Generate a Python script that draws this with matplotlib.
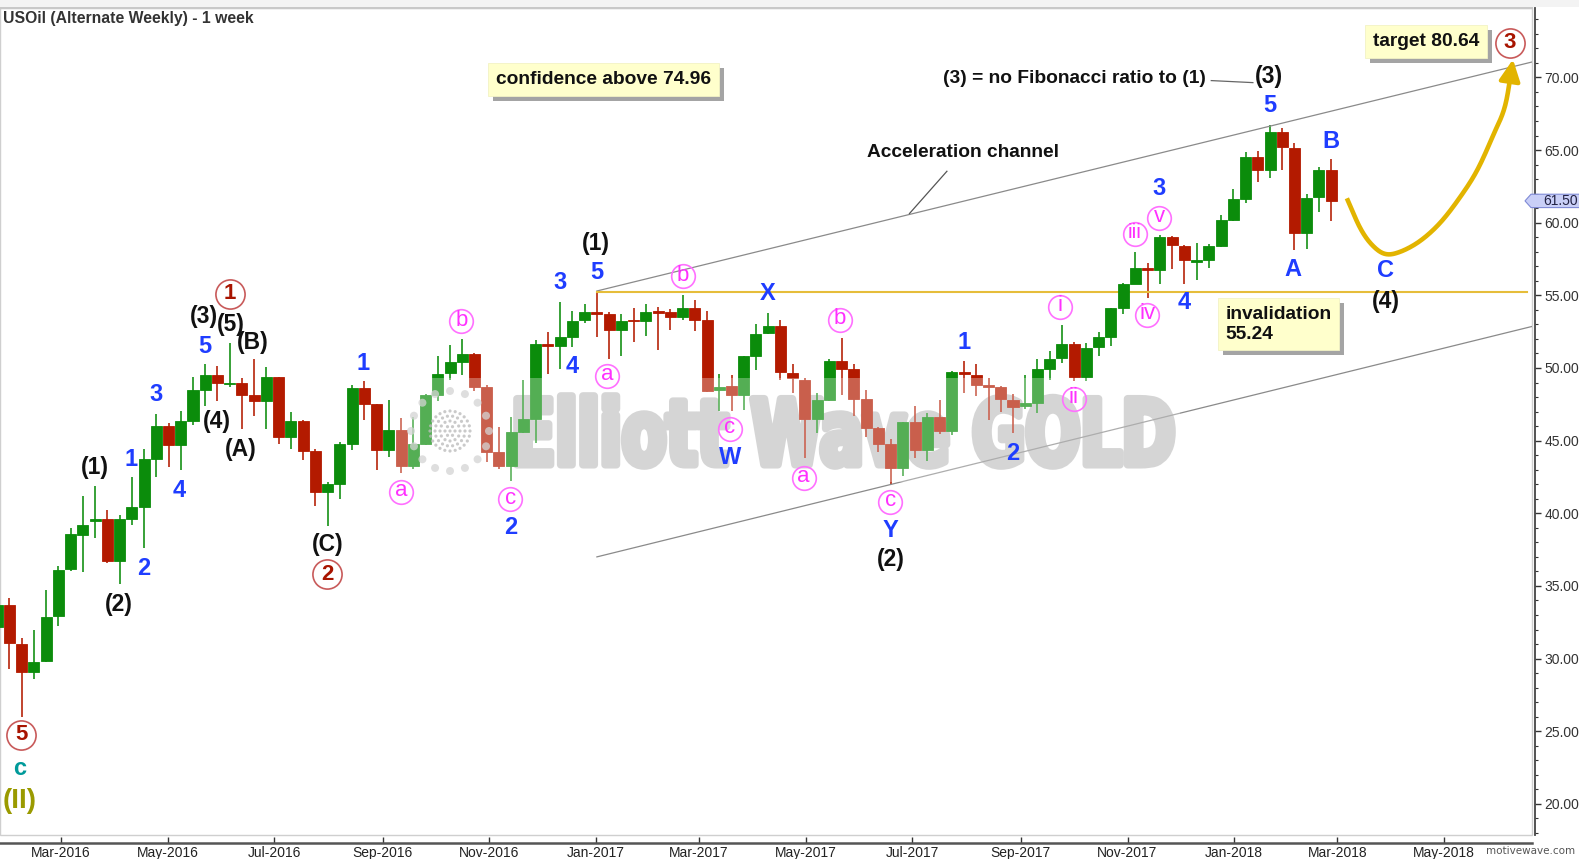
import numpy as np
import pandas as pd
import matplotlib
matplotlib.use("Agg")
import matplotlib.pyplot as plt
import matplotlib.dates as mdates
import matplotlib.patheffects as pe
from matplotlib.ticker import MultipleLocator, FormatStrFormatter
from matplotlib.textpath import TextPath
from matplotlib.patches import PathPatch, Polygon, Rectangle, Circle
from matplotlib.font_manager import FontProperties
from matplotlib.transforms import Affine2D, blended_transform_factory

plt.rcParams['font.family'] = ['Liberation Sans', 'DejaVu Sans']

# ---------------- data (weekly candles, first one = week of 2016-01-24) ----------------
week_start = "2016-01-24 12:00"
opens = [32.2, 33.7, 31.0, 29.1, 29.85, 32.9, 36.15, 38.5, 39.5, 39.6,
         36.7, 39.6, 40.45, 43.75, 46.0, 44.7, 46.35, 48.5, 49.55, 48.9,
         49.0, 48.15, 47.75, 49.35, 45.25, 46.35, 44.3, 41.5, 42.0, 44.8,
         48.65, 47.5, 44.35, 45.7, 43.25, 44.75, 48.15, 49.65, 50.4, 50.95,
         48.7, 44.2, 43.25, 45.6, 46.5, 51.65, 51.5, 52.1, 53.3, 53.85,
         53.7, 52.6, 53.3, 53.25, 53.9, 53.85, 53.5, 54.1, 53.3, 48.5,
         48.75, 48.15, 50.8, 52.4, 52.9, 49.65, 49.2, 46.5, 47.8, 50.5,
         49.9, 47.85, 45.9, 44.75, 43.15, 46.25, 44.35, 46.65, 45.65, 49.7,
         49.55, 48.8, 48.7, 47.8, 47.4, 47.6, 49.9, 50.7, 51.65, 49.35,
         51.45, 52.1, 54.1, 55.8, 56.85, 56.75, 59.0, 58.4, 57.3, 57.45,
         58.4, 60.2, 61.6, 64.5, 63.6, 66.25, 65.15, 59.3, 61.75, 63.65]
highs = [34.4, 34.15, 31.45, 32.0, 34.7, 36.4, 39.0, 41.2, 41.9, 40.2,
         39.9, 42.5, 44.45, 46.8, 46.2, 47.05, 49.35, 50.25, 50.15, 51.7,
         49.3, 50.6, 50.05, 49.4, 46.95, 46.4, 44.45, 42.15, 44.9, 48.85,
         49.1, 47.55, 47.8, 46.55, 46.65, 48.2, 50.8, 51.6, 52.0, 51.0,
         48.8, 45.95, 46.65, 49.2, 51.9, 52.5, 54.55, 53.9, 54.4, 55.24,
         53.85, 53.7, 54.1, 54.4, 54.2, 54.05, 55.05, 54.65, 53.9, 49.6,
         49.5, 50.85, 53.0, 53.8, 53.3, 50.25, 49.3, 48.3, 50.65, 52.05,
         50.3, 48.5, 45.95, 45.1, 46.3, 47.4, 46.9, 47.8, 49.8, 50.5,
         50.25, 49.3, 48.75, 48.2, 49.5, 50.6, 51.15, 52.95, 51.8, 51.75,
         52.45, 54.15, 55.85, 58.0, 57.25, 59.15, 59.05, 58.45, 58.6, 58.5,
         60.55, 62.3, 64.85, 64.95, 66.7, 66.5, 65.5, 62.0, 63.85, 64.35]
lows = [31.5, 29.3, 26.0, 28.6, 29.8, 32.25, 36.0, 35.95, 38.3, 36.6,
        35.1, 39.2, 37.6, 42.5, 43.2, 43.0, 46.1, 47.4, 47.75, 48.7,
        45.8, 46.7, 45.8, 44.75, 44.45, 43.65, 40.5, 39.1, 40.95, 44.35,
        46.4, 43.0, 43.85, 42.8, 43.05, 44.7, 47.75, 49.15, 49.5, 48.45,
        43.5, 43.05, 42.2, 45.55, 44.85, 49.6, 49.95, 51.45, 53.1, 52.1,
        50.65, 50.85, 51.8, 52.2, 51.25, 52.6, 53.3, 52.55, 48.35, 47.05,
        47.05, 47.1, 49.85, 52.35, 49.15, 48.25, 43.8, 45.55, 47.75, 48.15,
        46.7, 45.25, 44.2, 42.0, 42.55, 43.8, 43.6, 45.45, 45.4, 48.3,
        48.05, 46.45, 47.0, 45.55, 47.15, 46.9, 49.15, 50.35, 49.1, 49.1,
        50.85, 51.5, 53.7, 55.75, 54.85, 55.8, 56.8, 55.8, 56.05, 56.85,
        58.3, 60.15, 61.35, 62.8, 63.1, 63.65, 58.1, 58.2, 60.75, 60.15]
closes = [33.7, 31.05, 29.1, 29.8, 32.85, 36.1, 38.55, 39.2, 39.6, 36.7,
          39.6, 40.45, 43.75, 46.0, 44.7, 46.35, 48.5, 49.55, 48.95, 49.0,
          48.15, 47.75, 49.35, 45.25, 46.35, 44.3, 41.5, 42.0, 44.8, 48.65,
          47.5, 44.35, 45.7, 43.25, 44.75, 48.15, 49.6, 50.4, 50.95, 48.7,
          44.2, 43.25, 45.6, 46.5, 51.65, 51.5, 52.1, 53.25, 53.85, 53.75,
          52.6, 53.25, 53.2, 53.85, 53.8, 53.5, 54.1, 53.3, 48.4, 48.7,
          48.15, 50.8, 52.35, 52.9, 49.7, 49.3, 46.5, 47.8, 50.5, 49.9,
          47.85, 45.9, 44.75, 43.15, 46.3, 44.35, 46.65, 45.65, 49.75, 49.6,
          48.8, 48.7, 47.85, 47.35, 47.6, 49.9, 50.65, 51.65, 49.35, 51.4,
          52.1, 54.1, 55.75, 56.9, 56.75, 59.0, 58.45, 57.45, 57.45, 58.4,
          60.2, 61.6, 64.5, 63.6, 66.25, 65.2, 59.3, 61.7, 63.65, 61.5]

# wave labels: (text, candle index k, price); k = 0 is the week of 2016-01-31
blue_labels = [("2", 11.0, 36.2), ("1", 9.92, 43.7), ("4", 13.87, 41.6), ("3", 11.98, 48.2),
               ("5", 16.0, 51.5), ("1", 28.93, 50.3), ("2", 40.94, 39.0), ("3", 44.98, 55.85),
               ("4", 45.97, 50.1), ("5", 48.03, 56.6), ("X", 61.93, 55.15), ("W", 58.88, 43.85),
               ("Y", 71.98, 38.85), ("1", 77.98, 51.75), ("2", 82.0, 44.1), ("3", 93.95, 62.35),
               ("4", 96.0, 54.5), ("5", 103.0, 68.05), ("A", 104.9, 56.8), ("B", 107.94, 65.6),
               ("C", 112.4, 56.7)]
black_labels = [("(2)", 8.93, 33.75), ("(1)", 6.96, 43.15), ("(4)", 16.92, 46.3), ("(3)", 15.93, 53.55),
                ("(5)", 18.07, 53.0), ("(B)", 19.88, 51.75), ("(A)", 18.9, 44.4), ("(C)", 25.97, 37.85),
                ("(1)", 47.94, 58.55), ("(2)", 71.98, 36.8), ("(3)", 102.9, 70.05), ("(4)", 112.5, 54.6)]
minor_labels = [("a", 31.98, 41.5), ("b", 36.92, 53.2), ("c", 40.94, 40.95), ("a", 48.85, 49.45),
                ("b", 55.0, 56.3), ("c", 58.88, 45.8), ("a", 64.9, 42.45), ("b", 67.86, 53.3),
                ("c", 71.98, 40.8), ("i", 85.88, 54.2), ("ii", 86.96, 47.9), ("iii", 91.97, 59.2),
                ("iv", 92.96, 53.65), ("v", 93.95, 60.35)]
primary_labels = [("5", 0.95, 24.75), ("1", 17.99, 55.1), ("2", 25.97, 35.8), ("3", 122.6, 72.4)]

invalidation = 55.24
target = 80.64
confidence = 74.96
channel_upper = [(48.0, 55.3), (124.6, 71.1)]
channel_lower = [(48.0, 37.0), (124.6, 52.9)]
projection = [(109.28, 61.68), (110.37, 59.63), (111.35, 58.46), (112.41, 57.85), (113.64, 58.0),
              (115.27, 58.75), (116.91, 60.0), (118.54, 61.77), (119.93, 63.62), (121.24, 66.03),
              (122.22, 68.09), (122.85, 71.24)]

# ---------------- figure ----------------
W, H = 1579, 859
fig = plt.figure(figsize=(W / 100, H / 100), dpi=100)
ax = fig.add_axes([0, (H - 835) / H, 1532 / W, (835 - 7.5) / H])

dates = pd.date_range(week_start, periods=len(opens), freq="7D")
xs = mdates.date2num(dates)
k0 = xs[1]


def kx(k):
    return k0 + 7.0 * k


o = np.array(opens); h = np.array(highs); l = np.array(lows); c = np.array(closes)
up = c >= o
cols = np.where(up, "#0b8c0b", "#b31a00")
ax.vlines(xs, l, h, colors=cols, linewidth=1.15, zorder=2)
ax.bar(xs, np.maximum(np.abs(c - o), 0.1), bottom=np.minimum(o, c), width=6.3,
       color=cols, edgecolor=cols, linewidth=0.6, zorder=3)

left = mdates.date2num(pd.Timestamp("2016-01-26 02:40"))
ax.set_xlim(left, left + 1532 / 1.7484)
ax.set_ylim(17.86, 74.81)

# channel & lines
xr = ax.get_xlim()[1]
for ch in (channel_upper, channel_lower):
    (ka, pa), (kb, pb) = ch
    xa, xb = kx(ka), kx(kb)
    slope = (pb - pa) / (xb - xa)
    ax.plot([xa, xr], [pa, pa + slope * (xr - xa)], color="#8a8a8a", lw=0.9, zorder=2.5)
ax.plot([kx(48.0), kx(124.0)], [invalidation, invalidation], color="#e6bd3a", lw=1.5, zorder=2.6)

# projection curve (Catmull-Rom through points)
P = np.array([[kx(k), p] for k, p in projection])
pts = np.vstack([P[0] * 2 - P[1], P, P[-1] * 2 - P[-2]])
curve = []
for i in range(1, len(pts) - 2):
    p0, p1, p2, p3 = pts[i - 1], pts[i], pts[i + 1], pts[i + 2]
    for t in np.linspace(0, 1, 20, endpoint=False):
        t2, t3 = t * t, t * t * t
        curve.append(0.5 * ((2 * p1) + (-p0 + p2) * t + (2 * p0 - 5 * p1 + 4 * p2 - p3) * t2
                            + (-p0 + 3 * p1 - 3 * p2 + p3) * t3))
curve = np.array(curve)
ax.plot(curve[:-8, 0], curve[:-8, 1], color="#e2b400", lw=3.3, solid_capstyle="butt", zorder=4)
ax.annotate("", xy=(P[-1, 0], P[-1, 1]), xytext=(curve[-9, 0], curve[-9, 1]),
            arrowprops=dict(arrowstyle="-|>,head_length=0.65,head_width=0.32", color="#e2b400",
                            lw=3.0, shrinkA=0, shrinkB=0, mutation_scale=20), zorder=4)

# leader lines
ax.plot([kx(98.2), kx(101.6)], [69.78, 69.64], color="#666666", lw=0.9, zorder=4)
ax.plot([kx(76.6), kx(73.54)], [63.54, 60.63], color="#555555", lw=0.9, zorder=4)

# ---------------- watermark ----------------
fp = FontProperties(family="DejaVu Sans", weight="bold")
tp = TextPath((0, 0), "Elliott Wave GOLD", size=100, prop=fp)
bb = tp.get_extents()
x0w, x1w, ytw, ybw = 517, 1172, 396, 466
tr = Affine2D().translate(-bb.x0, -bb.y0).scale((x1w - x0w) / bb.width, (ybw - ytw) / bb.height) \
    .translate(x0w, H - ybw)
ax.add_artist(PathPatch(tp, transform=tr, fc="#c4c4c4", ec="#c4c4c4", lw=5.5, joinstyle="round",
                        zorder=1.5))
veil = Rectangle((395, H - 482), 785, 104, transform=None, fc="white", ec="none", alpha=0.3, zorder=3.6)
ax.add_artist(veil)
cx, cy = 450, H - 431
for a in np.linspace(0, 2 * np.pi, 16, endpoint=False):
    ax.add_artist(Circle((cx + 39 * np.cos(a), cy + 40 * np.sin(a)), 4.0, transform=None,
                         fc="#d4d4d4", ec="none", alpha=0.75, zorder=3.7))
for r, n in ((0, 1), (5, 6), (10, 12), (15, 18), (20, 24)):
    for a in np.linspace(0, 2 * np.pi, n, endpoint=False):
        ax.add_artist(Circle((cx + r * np.cos(a), cy + r * np.sin(a)), 1.6, transform=None,
                             fc="#bdbdbd", ec="none", alpha=0.8, zorder=3.7))

# ---------------- labels ----------------
for t, k, p in blue_labels:
    ax.text(kx(k), p, t, color="#1f3dff", fontsize=17, fontweight="bold", ha="center", va="center", zorder=6)
for t, k, p in black_labels:
    ax.text(kx(k), p, t, color="#111111", fontsize=16.5, fontweight="bold", ha="center", va="center", zorder=6)
for t, k, p in minor_labels:
    ax.plot([kx(k)], [p], marker="o", ms=17, mfc="none", mec="#ff70ff", mew=1.2, zorder=6)
    ax.text(kx(k), p + 0.1, t, color="#ff30ff", fontsize=16 if len(t) < 3 else 15,
            ha="center", va="center", zorder=6)
for t, k, p in primary_labels:
    ax.plot([kx(k)], [p], marker="o", ms=21, mfc="none", mec="#c85a5a", mew=1.2, zorder=6)
    ax.text(kx(k), p, t, color="#a81400", fontsize=16, fontweight="bold", ha="center", va="center", zorder=6)
ax.text(kx(0.87), 22.45, "c", color="#009a9a", fontsize=17, fontweight="bold", ha="center", va="center", zorder=6)
ax.text(kx(0.87), 20.2, "(II)", color="#9a9a00", fontsize=20, fontweight="bold", ha="center", va="center", zorder=6)

ax.text(kx(87.0), 69.9, "(3) = no Fibonacci ratio to (1)", color="#111111", fontsize=13.8,
        fontweight="bold", ha="center", va="center", zorder=6)
ax.text(kx(77.9), 64.86, "Acceleration channel", color="#111111", fontsize=13.8,
        fontweight="bold", ha="center", va="center", zorder=6)


def box_text(k, p, s, ha="center"):
    t = ax.text(kx(k), p, s, color="#111111", fontsize=13.8, fontweight="bold", ha=ha, va="center",
                linespacing=1.2, zorder=7,
                bbox=dict(boxstyle="square,pad=0.4", fc="#ffffcc", ec="#f2f2c4", lw=0.6))
    t.get_bbox_patch().set_path_effects([
        pe.SimplePatchShadow(offset=(3.6, -3.6), shadow_rgbFace="#a4a4a4", alpha=1.0),
        pe.Normal()])


box_text(48.55, 69.85, f"confidence above {confidence:.2f}")
box_text(115.73, 72.48, f"target {target:.2f}")
box_text(99.34, 53.0, f"invalidation\n{invalidation:.2f}", ha="left")

# ---------------- axes styling ----------------
ax.yaxis.tick_right()
ax.yaxis.set_major_locator(MultipleLocator(5))
ax.yaxis.set_minor_locator(MultipleLocator(1))
ax.yaxis.set_major_formatter(FormatStrFormatter("%.2f"))
ax.tick_params(axis="y", which="major", direction="out", length=4, width=1, color="#333333",
               labelsize=10, labelcolor="#333333", pad=3)
ax.tick_params(axis="y", which="minor", direction="out", length=2.5, width=0.8, color="#333333")
ax.xaxis.set_major_locator(mdates.MonthLocator(bymonth=[1, 3, 5, 7, 9, 11]))
ax.xaxis.set_major_formatter(mdates.DateFormatter("%b-%Y"))
ax.tick_params(axis="x", which="major", direction="in", length=4.3, width=1, color="#333333",
               labelsize=10, labelcolor="#222222", pad=2)
ax.spines["left"].set_visible(False)
ax.spines["top"].set_color("#c8c8c8")
ax.spines["top"].set_linewidth(1.6)
ax.spines["right"].set_position(("outward", 2))
ax.spines["right"].set_color("#444444")
ax.spines["right"].set_linewidth(1.3)
ax.spines["bottom"].set_position(("outward", 6))
ax.spines["bottom"].set_color("#555555")
ax.spines["bottom"].set_linewidth(1.8)
ax.patch.set_edgecolor("#cfcfcf")
ax.patch.set_linewidth(1.0)

# last price marker
last = closes[-1]
bt = blended_transform_factory(ax.transAxes, ax.transData)
fx = lambda px: px / 1532.0
ax.add_artist(Polygon([(fx(1525), last), (fx(1531), last + 0.46), (fx(1585), last + 0.46),
                       (fx(1585), last - 0.46), (fx(1531), last - 0.46)], closed=True,
                      transform=bt, fc="#c9cff7", ec="#7f8ad6", lw=0.8, clip_on=False, zorder=8))
ax.text(fx(1543), last, f"{last:.2f}", transform=bt, fontsize=10, color="#222244", va="center",
        ha="left", clip_on=False, zorder=9)

# header band and title
fig.patches.append(Rectangle((0, (H - 6.5) / H), 1, 6.5 / H, transform=fig.transFigure,
                             fc="#f3f3f3", ec="none", zorder=0))
fig.text(3 / W, 1 - 19 / H, "USOil (Alternate Weekly) - 1 week", fontsize=11.3, fontweight="bold",
         color="#333333", ha="left", va="center")
fig.text(1486 / W, 1 - 851 / H, "motivewave.com", fontsize=7.5, color="#555555", ha="left",
         va="center", family="DejaVu Sans")

fig.savefig("out.png", dpi=100)
